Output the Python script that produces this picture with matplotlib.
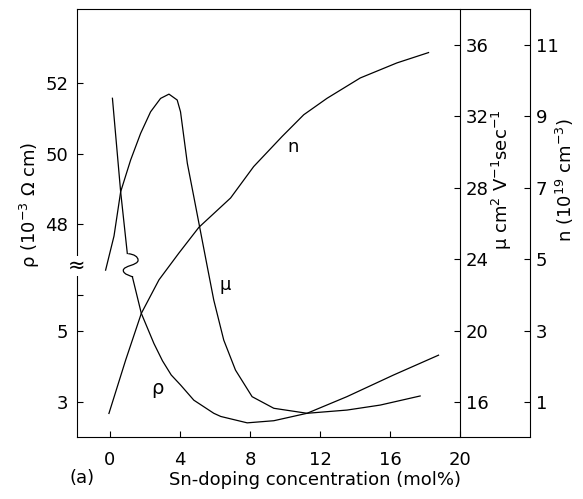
import numpy as np
import matplotlib as mpl
mpl.use('Agg')
import matplotlib.pyplot as plt
from matplotlib.path import Path

# values (x in mol %)
rho_x = [0.14, 0.61, 0.99, 1.28, 1.79, 2.51, 3.0, 3.5, 4.03, 4.79, 5.93, 6.33, 7.84, 9.36, 11.26, 13.54, 16.2, 18.77]
rho = [51.56, 48.92, 47.18, 6.52, 5.49, 4.64, 4.15, 3.75, 3.47, 3.04, 2.67, 2.58, 2.40, 2.46, 2.67, 3.14, 3.75, 4.31]

mu_x = [-0.25, 0.23, 0.61, 1.18, 1.75, 2.32, 2.89, 3.37, 3.84, 4.03, 4.42, 4.79, 5.12, 5.56, 5.93, 6.50, 7.17, 8.12, 9.36, 11.26, 13.54, 15.44, 17.72]
mu = [23.39, 25.3, 27.78, 29.56, 31.05, 32.26, 33.01, 33.25, 32.92, 32.26, 29.37, 27.50, 25.82, 23.58, 21.71, 19.47, 17.79, 16.30, 15.65, 15.37, 15.55, 15.83, 16.34]

n_x = [-0.06, 0.42, 0.90, 1.79, 2.80, 3.94, 5.08, 6.89, 8.21, 9.83, 11.07, 12.40, 14.30, 16.39, 18.20]
n = [0.68, 1.43, 2.18, 3.48, 4.42, 5.17, 5.89, 6.71, 7.59, 8.43, 9.04, 9.50, 10.07, 10.49, 10.78]

x_ticks = [0, 4, 8, 12, 16, 20]
rho_ticks = [3, 5, 6, 48, 50, 52]
rho_labels = ['3', '5', '', '48', '50', '52']
mu_ticks = [16, 20, 24, 28, 32, 36]
n_ticks = [1, 3, 5, 7, 9, 11]

fsize = 13
lw = 0.9


# broken rho axis: the upper part (>26) is shifted down by 40
def fwd(r):
    r = np.asarray(r, dtype=float)
    return np.where(r > 26, r - 40, r)


def inv(t):
    t = np.asarray(t, dtype=float)
    return np.where(t > 6.85, t + 40, t)


# little S shaped squiggle drawn where the rho curve jumps the break
squig = Path([(-0.19, 1.0), (0.3, 0.95), (0.64, 0.75), (0.64, 0.45),
              (0.64, 0.0), (-0.61, 0.0), (-0.61, -0.42),
              (-0.61, -0.75), (0.05, -0.9), (0.22, -0.97)],
             [Path.MOVETO, Path.CURVE4, Path.CURVE4, Path.CURVE4,
              Path.CURVE4, Path.CURVE4, Path.CURVE4,
              Path.CURVE4, Path.CURVE4, Path.CURVE4])

fig = plt.figure(figsize=(5.83, 4.99), dpi=100)
ax = fig.add_axes([0.1316, 0.1242, 0.7776, 0.8578])
ax.set_yscale('function', functions=(fwd, inv))

rx = np.array(rho_x)
rv = np.array(rho)
up = rv > 26
ax.plot(rx[up], rv[up], '-', color='black', lw=lw)
ax.plot(rx[~up], rv[~up], '-', color='black', lw=lw)
bx = (rx[up][-1] + rx[~up][0]) / 2
by = (fwd(rv[up][-1]) + rv[~up][0]) / 2
ax.plot([bx], [by], marker=squig, markersize=17, mfc='none', mec='black', mew=lw, ls='none')

ax.set_xlim(-1.9, 24)
ax.set_ylim(2, 54.08)
ax.set_xticks(x_ticks)
ax.set_yticks(rho_ticks)
ax.set_yticklabels(rho_labels)
ax.yaxis.set_minor_locator(mpl.ticker.NullLocator())
ax.tick_params(axis='x', direction='in', length=4, pad=10, labelsize=fsize)
ax.tick_params(axis='y', direction='in', length=4, pad=6, labelsize=fsize)
ax.spines['right'].set_visible(False)

# mobility axis sitting at x = 20
ax2 = ax.twinx()
ax2.plot(mu_x, mu, '-', color='black', lw=lw)
ax2.set_ylim(14.04, 38.02)
ax2.set_yticks(mu_ticks)
ax2.spines['right'].set_position(('data', 20))
for s in ['left', 'top', 'bottom']:
    ax2.spines[s].set_visible(False)
ax2.tick_params(axis='y', direction='in', length=4, pad=4, labelsize=fsize)

# carrier concentration axis on the far right
ax3 = ax.twinx()
ax3.plot(n_x, n, '-', color='black', lw=lw)
ax3.set_ylim(0.02, 12.0)
ax3.set_yticks(n_ticks)
for s in ['left', 'top', 'bottom']:
    ax3.spines[s].set_visible(False)
ax3.tick_params(axis='y', direction='in', length=4, pad=4, labelsize=fsize)

# break mark on the rho axis
ax.text(0, 6.83, '\u2248', transform=ax.get_yaxis_transform(), ha='center', va='center',
        fontsize=15, bbox=dict(facecolor='white', edgecolor='none', pad=0))

# curve names
ax.text(0.477, 0.678, 'n', transform=ax.transAxes, ha='center', va='center', fontsize=fsize)
ax.text(0.327, 0.355, '\u03bc', transform=ax.transAxes, ha='center', va='center', fontsize=fsize)
ax.text(0.179, 0.114, '\u03c1', transform=ax.transAxes, ha='center', va='center', fontsize=fsize + 1)

fig.text(0.0515, 0.589, '\u03c1 (10$^{-3}$ \u03a9 cm)', rotation=90, ha='center', va='center', fontsize=fsize)
fig.text(0.861, 0.640, '\u03bc cm$^{2}$ V$^{-1}$sec$^{-1}$', rotation=90, ha='center', va='center', fontsize=fsize)
fig.text(0.969, 0.639, 'n (10$^{19}$ cm$^{-3}$)', rotation=90, ha='center', va='center', fontsize=fsize)
fig.text(0.540, 0.038, 'Sn-doping concentration (mol%)', ha='center', va='center', fontsize=fsize)
fig.text(0.141, 0.042, '(a)', ha='center', va='center', fontsize=fsize)

fig.savefig('out.png', dpi=100)
